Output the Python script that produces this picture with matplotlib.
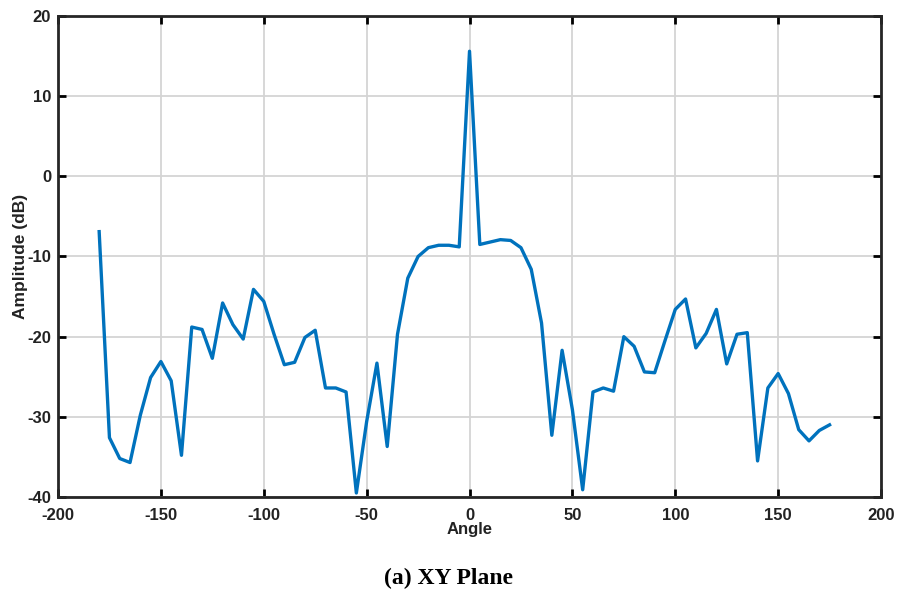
import matplotlib
matplotlib.use("Agg")
import matplotlib.pyplot as plt
import numpy as np

plt.rcParams["axes.unicode_minus"] = False

# angle sweep in degrees and measured amplitude (dB)
angle = list(range(-180, 180, 5))
amplitude = [
    -6.9, -32.6, -35.2, -35.7, -29.8, -25.1, -23.1, -25.5, -34.8, -18.8,
    -19.1, -22.7, -15.8, -18.5, -20.3, -14.1, -15.6, -19.7, -23.5, -23.2,
    -20.1, -19.2, -26.4, -26.4, -26.9, -39.5, -30.6, -23.3, -33.7, -19.7,
    -12.7, -10.0, -8.9, -8.6, -8.6, -8.8, 15.6, -8.5, -8.2, -7.9,
    -8.0, -8.9, -11.6, -18.3, -32.3, -21.7, -29.1, -39.1, -26.9, -26.4,
    -26.8, -20.0, -21.2, -24.4, -24.5, -20.5, -16.6, -15.3, -21.4, -19.6,
    -16.6, -23.4, -19.7, -19.5, -35.5, -26.4, -24.6, -27.1, -31.6, -33.0,
    -31.7, -31.0,
]

xticks = [-200, -150, -100, -50, 0, 50, 100, 150, 200]
yticks = [-40, -30, -20, -10, 0, 10, 20]

tick_font = ["Liberation Sans", "DejaVu Sans"]

fig = plt.figure(figsize=(8.98, 5.94), dpi=100)
ax = fig.add_axes([0.0646, 0.1633, 0.9165, 0.8098])

ax.plot(angle, amplitude, color="#0072BD", linewidth=2.4)

ax.set_xlim(-200, 200)
ax.set_ylim(-40, 20)
ax.set_xticks(xticks)
ax.set_yticks(yticks)
ax.grid(True, color="#d4d4d4", linewidth=1.3)
ax.set_axisbelow(True)

ax.tick_params(direction="in", length=6, width=2, top=True, right=True,
               labelsize=12)
ax.tick_params(axis="x", pad=8)
ax.tick_params(axis="y", pad=5)
for lab in ax.get_xticklabels() + ax.get_yticklabels():
    lab.set_family(tick_font)
    lab.set_fontweight("bold")
    lab.set_color("#222222")
for s in ax.spines.values():
    s.set_linewidth(2)
    s.set_color("#262626")

ax.set_xlabel("Angle", family=tick_font, fontweight="bold", fontsize=12,
              labelpad=-1, color="#222222")
ax.set_ylabel("Amplitude (dB)", family=tick_font,
              fontweight="bold", fontsize=12.5, color="#222222")
ax.yaxis.set_label_coords(-0.037, 0.5)

fig.text(0.5, 0.008, "(a) XY Plane", ha="center", va="bottom",
         family=["Liberation Serif", "DejaVu Serif"], fontweight="bold",
         fontsize=17)

fig.savefig("out.png", dpi=100)
